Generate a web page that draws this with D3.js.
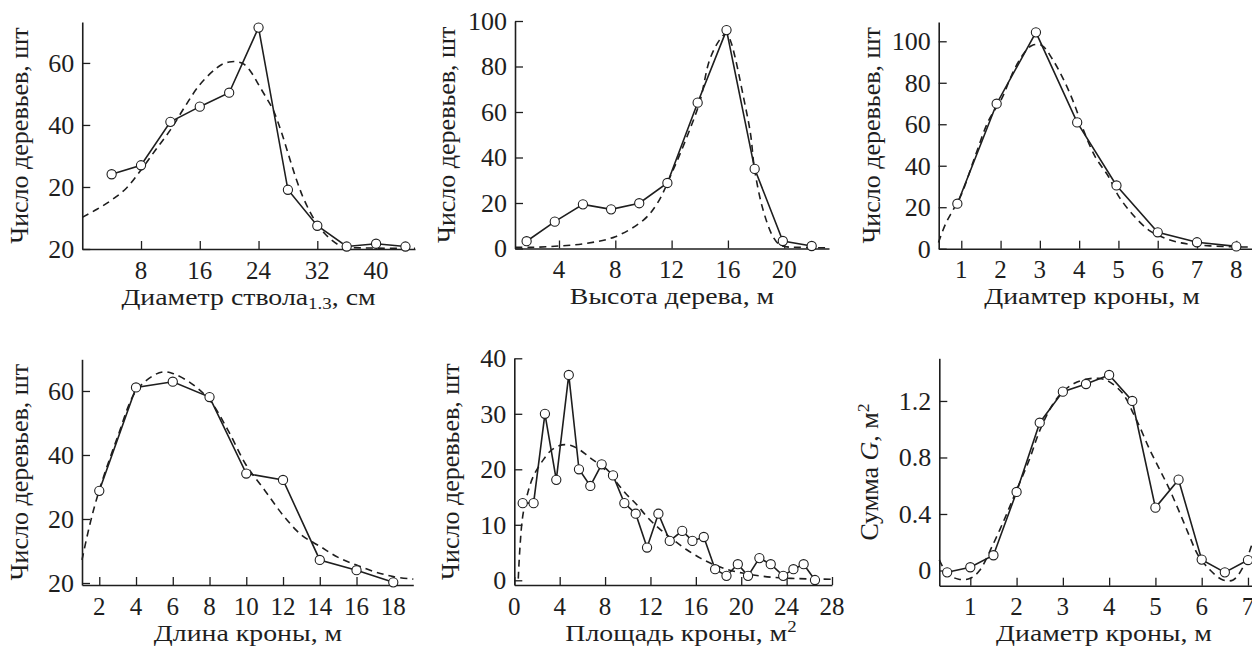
<!DOCTYPE html>
<html><head><meta charset="utf-8">
<script src="https://cdn.jsdelivr.net/npm/d3@7"></script>
<style>
html,body{margin:0;padding:0;background:#fff;}
svg{display:block;}
</style>
</head><body>
<svg id="c" width="1252" height="652"></svg>
<script>
// ---------- Panel 1: Диаметр ствола ----------
const p1X = [4, 8, 12, 16, 20, 24, 28, 32, 36, 40, 44];
const p1Y = [24.1, 27, 41, 45.9, 50.4, 71.4, 19.1, 7.5, 0.8, 1.7, 0.8];
const p1FitX = [0, 2, 4, 6, 8, 10, 12, 14, 16, 18, 19, 20, 21, 22, 23, 24, 25, 26, 27, 28, 29, 30, 31, 32, 33, 34, 35, 36, 40, 45.3];
const p1FitY = [10.2, 12.8, 15.8, 19.6, 25.5, 32, 38.4, 46, 53, 57.8, 59.5, 60.3, 60.4, 59.6, 57, 53, 49, 44.8, 38.5, 31, 23.5, 17, 12, 8, 5, 2.8, 1.2, 0.6, 0.3, 0.2];
const p1XTicks = [8, 16, 24, 32, 40];
const p1YTicks = [0, 20, 40, 60];
const p1YTickLabels = ["20", "20", "40", "60"];

// ---------- Panel 2: Высота дерева ----------
const p2X = [1.7, 3.7, 5.7, 7.7, 9.7, 11.7, 13.85, 15.9, 17.9, 19.9, 21.95];
const p2Y = [3.2, 11.8, 19.4, 17.2, 19.9, 28.8, 64.1, 96, 35, 3.3, 1.1];
const p2FitX = [0.9, 2, 4, 6, 8, 10, 11, 12, 13, 14, 14.7, 15.4, 15.9, 16.2, 16.5, 17.1, 17.6, 17.9, 18.5, 19.2, 19.7, 20.2, 21, 23.2];
const p2FitY = [0.5, 0.5, 1.1, 2.3, 5.2, 12.5, 20, 33, 47.7, 64.5, 82.9, 91.6, 94.6, 91, 84.3, 66.7, 50.6, 34.5, 16.9, 5.2, 1.5, 0.7, 0.5, 0.3];
const p2XTicks = [4, 8, 12, 16, 20];
const p2YTicks = [0, 20, 40, 60, 80, 100];
const p2YTickLabels = ["0", "20", "40", "60", "80", "100"];

// ---------- Panel 3: Диамтер кроны ----------
const p3X = [0.9, 1.9, 2.9, 3.95, 4.95, 6, 7, 8];
const p3Y = [21.7, 69.9, 104.3, 60.9, 30.5, 7.9, 3.1, 1.1];
const p3FitX = [0.42, 0.6, 0.8, 1.0, 1.36, 1.7, 2.02, 2.29, 2.55, 2.8, 3.05, 3.31, 3.65, 3.9, 4.11, 4.41, 4.75, 5.0, 5.34, 5.77, 6.19, 6.6, 7, 7.5, 8, 8.4];
const p3FitY = [3, 12, 19, 26, 45, 62, 72, 84, 93, 98, 98, 91.7, 79.7, 68.5, 57.2, 44.3, 34.7, 25.5, 17, 9, 5, 2.8, 1.8, 1.2, 0.9, 0.8];
const p3XTicks = [1, 2, 3, 4, 5, 6, 7, 8];
const p3YTicks = [0, 20, 40, 60, 80, 100];
const p3YTickLabels = ["0", "20", "40", "60", "80", "100"];

// ---------- Panel 4: Длина кроны ----------
const p4X = [2, 4, 6, 8, 10, 12, 14, 16, 18];
const p4Y = [28.8, 61.1, 62.9, 58.1, 34.2, 32.2, 7.2, 4, 0.2];
const p4FitX = [1.06, 1.5, 2, 3, 4, 5, 5.5, 6, 7, 8, 9, 10, 11, 12, 13, 14, 15, 16, 17, 18, 19.09];
const p4FitY = [7.2, 18.6, 29, 45.7, 60, 65, 66, 65.5, 62.4, 57.2, 47.8, 36.8, 29, 21.2, 15, 11.5, 8, 5.6, 3.5, 2, 1.2];
const p4XTicks = [2, 4, 6, 8, 10, 12, 14, 16, 18];
const p4YTicks = [0, 20, 40, 60];
const p4YTickLabels = ["20", "20", "40", "60"];

// ---------- Panel 5: Площадь кроны ----------
const p5X = [0.74, 1.7, 2.7, 3.7, 4.8, 5.7, 6.7, 7.7, 8.7, 9.7, 10.7, 11.7, 12.7, 13.7, 14.8, 15.7, 16.7, 17.7, 18.7, 19.7, 20.6, 21.6, 22.6, 23.7, 24.6, 25.5, 26.5];
const p5Y = [13.9, 13.9, 30, 18.1, 37, 20, 17, 20.9, 18.9, 13.9, 12, 5.9, 12, 7.1, 8.9, 7.1, 7.8, 2, 0.8, 2.9, 0.8, 4, 2.9, 0.8, 2, 2.9, 0.05];
const p5FitX = [0.35, 0.5, 0.74, 1.09, 1.67, 2.55, 3.3, 4.2, 5, 5.7, 6.6, 7.7, 8.7, 9.8, 10.8, 11.8, 12.9, 14, 15.2, 16.4, 17.5, 18.7, 20.1, 21.6, 23, 24.4, 26, 28];
const p5FitY = [0.3, 6, 11.5, 15, 18.7, 21.7, 23.5, 24.4, 24.3, 23.6, 22.2, 20.5, 18.4, 15.7, 13.6, 11.2, 9.1, 7.3, 5.5, 4, 2.9, 2, 1.3, 0.8, 0.5, 0.35, 0.25, 0.2];
const p5XTicks = [0, 4, 8, 12, 16, 20, 24, 28];
const p5YTicks = [0, 10, 20, 30, 40];
const p5YTickLabels = ["0", "10", "20", "30", "40"];

// ---------- Panel 6: Сумма G ----------
const p6X = [0.5, 1, 1.5, 2, 2.5, 3, 3.5, 4, 4.5, 5, 5.5, 6, 6.5, 7];
const p6Y = [-0.013, 0.023, 0.108, 0.556, 1.046, 1.266, 1.32, 1.384, 1.2, 0.445, 0.643, 0.077, -0.013, 0.074];
const p6FitX = [0.33, 0.5, 0.75, 1.0, 1.2, 1.47, 1.76, 2.0, 2.27, 2.5, 2.77, 3.0, 3.25, 3.49, 3.78, 4.0, 4.3, 4.52, 4.66, 4.88, 5.1, 5.31, 5.53, 5.74, 5.92, 6.18, 6.46, 6.68, 6.9, 7.08];
const p6FitY = [0.075, -0.02, -0.062, -0.055, 0, 0.17, 0.38, 0.57, 0.78, 0.99, 1.17, 1.266, 1.325, 1.353, 1.36, 1.337, 1.25, 1.113, 1.018, 0.853, 0.71, 0.57, 0.405, 0.24, 0.11, 0.004, -0.067, -0.067, 0.027, 0.18];
const p6XTicks = [1, 2, 3, 4, 5, 6, 7];
const p6YTicks = [0, 0.4, 0.8, 1.2];
const p6YTickLabels = ["0", "0.4", "0.8", "1.2"];

// ---------- layout (positions only) ----------
const panels = [
  {x:p1X, y:p1Y, fx:p1FitX, fy:p1FitY, xt:p1XTicks, yt:p1YTicks, yl:p1YTickLabels,
   xDom:[0,45.3], xR:[82.25,415], yDom:[0,73.2], yR:[249,22], yTitleOff:54, xTitleC:248.5,
   xTitle:[["Диаметр ствола",""],["1.3","sub"],[", см","unsub"]], yTitle:[["Число деревьев, шт",""]]},
  {x:p2X, y:p2Y, fx:p2FitX, fy:p2FitY, xt:p2XTicks, yt:p2YTicks, yl:p2YTickLabels,
   xDom:[0.875,23.18], xR:[515,829], yDom:[0,100], yR:[248.5,21], yTitleOff:60, xTitleC:672,
   xTitle:[["Высота дерева, м",""]], yTitle:[["Число деревьев, шт",""]]},
  {x:p3X, y:p3Y, fx:p3FitX, fy:p3FitY, xt:p3XTicks, yt:p3YTicks, yl:p3YTickLabels,
   xDom:[0.425,8.4], xR:[938.7,1252], yDom:[0,109.3], yR:[248.7,22], yTitleOff:58.5, xTitleC:1092,
   xTitle:[["Диамтер кроны, м",""]], yTitle:[["Число деревьев, шт",""]]},
  {x:p4X, y:p4Y, fx:p4FitX, fy:p4FitY, xt:p4XTicks, yt:p4YTicks, yl:p4YTickLabels,
   xDom:[1.06,19.09], xR:[82,413.3], yDom:[-0.625,69.9], yR:[585,359.3], yTitleOff:54, xTitleC:248,
   xTitle:[["Длина кроны, м",""]], yTitle:[["Число деревьев, шт",""]]},
  {x:p5X, y:p5Y, fx:p5FitX, fy:p5FitY, xt:p5XTicks, yt:p5YTicks, yl:p5YTickLabels,
   xDom:[0,28], xR:[514.3,832], yDom:[-0.847,40], yR:[585,358.3], yTitleOff:55, xTitleC:681,
   xTitle:[["Площадь кроны, м",""],["2","sup"]], yTitle:[["Число деревьев, шт",""]]},
  {x:p6X, y:p6Y, fx:p6FitX, fy:p6FitY, xt:p6XTicks, yt:p6YTicks, yl:p6YTickLabels,
   xDom:[0.33,7.087], xR:[939.3,1252], yDom:[-0.1076,1.502], yR:[585.7,358.3], yTitleOff:61, xTitleC:1104,
   xTitle:[["Диаметр кроны, м",""]], yTitle:[["Сумма ",""],["G","it"],[", м",""],["2","sup"]]}
];

const FONT = "'Liberation Serif', 'DejaVu Serif', 'Times New Roman', serif";
const svg = d3.select("#c");
svg.append("rect").attr("width",1252).attr("height",652).attr("fill","#fff");
const INK = "#1e1e1e";

function addRich(t, parts){
  parts.forEach(([s,kind])=>{
    const ts = t.append("tspan").text(s);
    if(kind==="sub"){ ts.attr("font-size","0.68em").attr("dy","0.3em"); }
    if(kind==="unsub"){ ts.attr("dy","-0.2em"); }
    if(kind==="sup"){ ts.attr("font-size","0.68em").attr("dy","-0.55em"); }
    if(kind==="it"){ ts.attr("font-style","italic"); }
  });
  return t;
}

panels.forEach(p=>{
  const xs = d3.scaleLinear().domain(p.xDom).range(p.xR);
  const ys = d3.scaleLinear().domain(p.yDom).range(p.yR);
  const g = svg.append("g");
  const x0 = p.xR[0], yb = p.yR[0];

  const xAxis = d3.axisBottom(xs).tickValues(p.xt).tickSizeInner(-8).tickSizeOuter(0).tickPadding(0).tickFormat("");
  const gx = g.append("g").attr("transform",`translate(0,${yb})`).call(xAxis);
  gx.select(".domain").attr("stroke",INK).attr("stroke-width",1.6);
  gx.selectAll(".tick line").attr("stroke",INK).attr("stroke-width",1.3);
  const yAxis = d3.axisLeft(ys).tickValues(p.yt).tickSizeInner(-8).tickSizeOuter(0).tickFormat("");
  const gy = g.append("g").attr("transform",`translate(${x0},0)`).call(yAxis);
  gy.select(".domain").attr("stroke",INK).attr("stroke-width",1.6);
  gy.selectAll(".tick line").attr("stroke",INK).attr("stroke-width",1.3);

  g.selectAll(null).data(p.xt).enter().append("text")
    .attr("x",d=>xs(d)).attr("y",yb+29.5).attr("text-anchor","middle")
    .attr("font-family",FONT).attr("fill",INK)
    .attr("font-size",25).text(d=>d);
  g.selectAll(null).data(p.yt).enter().append("text")
    .attr("x",x0-8).attr("y",d=>ys(d)).attr("dy","0.34em").attr("text-anchor","end")
    .attr("font-family",FONT).attr("fill",INK)
    .attr("font-size",26).text((d,i)=>p.yl[i]);

  const xt = g.append("text").attr("transform",`translate(${p.xTitleC},${yb+55.5}) scale(1.21,1)`)
    .attr("text-anchor","middle").attr("font-size",23).attr("font-family",FONT).attr("fill",INK);
  addRich(xt, p.xTitle);
  const yc = (p.yR[0]+p.yR[1])/2;
  const yt = g.append("text").attr("transform",`translate(${x0-p.yTitleOff},${yc}) rotate(-90)`)
    .attr("text-anchor","middle").attr("font-size",26).attr("font-family",FONT).attr("fill",INK);
  addRich(yt, p.yTitle);

  const fit = p.fx.map((v,i)=>[v,p.fy[i]]);
  g.append("path").datum(fit)
    .attr("d", d3.line().x(d=>xs(d[0])).y(d=>ys(d[1])).curve(d3.curveCatmullRom.alpha(0.5)))
    .attr("fill","none").attr("stroke",INK).attr("stroke-width",1.6).attr("stroke-dasharray","7,5");

  const obs = p.x.map((v,i)=>[v,p.y[i]]);
  g.append("path").datum(obs)
    .attr("d", d3.line().x(d=>xs(d[0])).y(d=>ys(d[1])))
    .attr("fill","none").attr("stroke",INK).attr("stroke-width",1.6);
  g.selectAll(null).data(obs).enter().append("circle")
    .attr("cx",d=>xs(d[0])).attr("cy",d=>ys(d[1])).attr("r",4.6)
    .attr("fill","#fff").attr("stroke",INK).attr("stroke-width",1.1);
});
</script>
</body></html>
